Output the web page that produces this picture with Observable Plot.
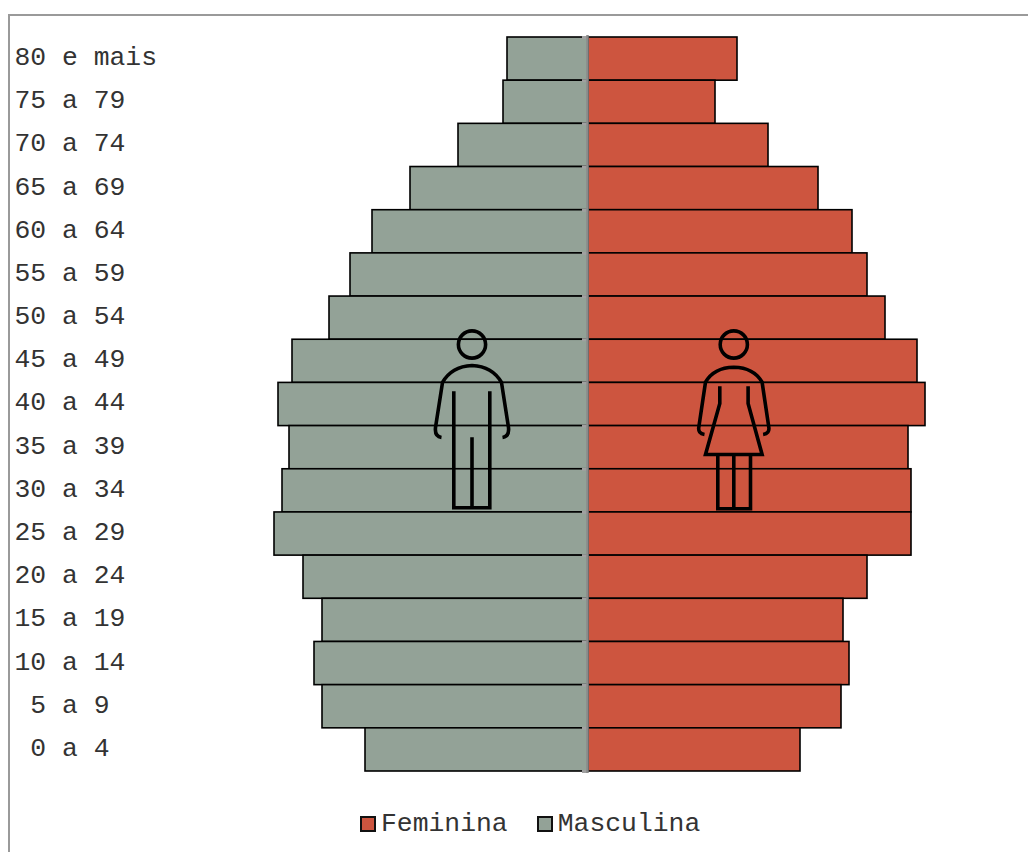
<!DOCTYPE html>
<html><head><meta charset="utf-8">
<script src="https://cdn.jsdelivr.net/npm/d3@7"></script>
<script src="https://cdn.jsdelivr.net/npm/@observablehq/plot@0.6"></script>
<style>
html,body{margin:0;padding:0;background:#fff;overflow:hidden}
#frame{position:relative;width:1028px;height:852px}
#frame svg{display:block}
#border{position:absolute;left:8px;top:14px;right:-4px;bottom:-4px;border-top:2px solid #9a9a9a;border-left:2px solid #9a9a9a}
#legend{position:absolute;left:360px;top:809px;display:flex;align-items:center;font:26.4px "Liberation Mono",monospace;color:#333;line-height:30px;white-space:pre}
#legend i{display:inline-block;width:12px;height:12px;border:2px solid #111;margin-right:5px;margin-top:0;box-sizing:content-box}
#legend span{margin-right:29px}
</style></head><body>
<div id="frame"><div id="border"></div><div id="chart"></div><div id="legend"></div></div>
<script>
const ageGroups = ["80 e mais","75 a 79","70 a 74","65 a 69","60 a 64","55 a 59","50 a 54","45 a 49","40 a 44","35 a 39","30 a 34","25 a 29","20 a 24","15 a 19","10 a 14","\u00a05 a 9","\u00a00 a 4"];
const masculina = [81,85,130,178,216,238,259,296,310,299,306,314,285,266,274,266,223];
const feminina = [149,127,180,230,264,279,297,329,337,320,323,323,279,255,261,253,212];
const seriesNames = ["Feminina","Masculina"];
const seriesColors = ["#cd553f","#93a297"];
const iconCenters = [-117,145.3];
const iconRow = "40 a 44";

const rows = ageGroups.flatMap((a,i)=>[
  {age:a,sexo:"Masculina",x1:-masculina[i],x2:0},
  {age:a,sexo:"Feminina",x1:0,x2:feminina[i]}
]);

const svgUri = s => "data:image/svg+xml;utf8,"+encodeURIComponent(s);
const head = '<svg xmlns="http://www.w3.org/2000/svg" viewBox="0 0 80 184" width="80" height="184"><g fill="none" stroke="#000" stroke-width="3.6" stroke-linecap="butt" stroke-linejoin="miter">';
const maleIcon = head +
 '<circle cx="40.5" cy="16" r="13.6"/>'+
 '<path d="M10 109 Q3 108 4 99 L11 54 Q20 38 40.5 37 Q61 38 70 54 L77 99 Q78 108 71 109"/>'+
 '<path d="M22.3 62.7 V179.3 H58.3 V62.7 M40.5 108.7 V179.3"/></g></svg>';
const femaleIcon = head +
 '<circle cx="40" cy="16" r="13.6"/>'+
 '<path d="M10.7 106 Q4 105 5 98.7 L11.7 53.7 Q20 39 40 38.7 Q60 39 68.3 53.7 L75 98.7 Q76 105 69.3 106"/>'+
 '<path d="M26 57.7 V75 L11.7 126 H68.3 L54.3 75 V57.7 M24 126 V180.3 H56.7 V126 M40 126 V180.3"/></g></svg>';

const step = (771-37)/ageGroups.length;
const axisGray = "#8a8a8a";

const plot = Plot.plot({
  width:1028, height:852, margin:0,
  style:{background:"transparent",overflow:"visible"},
  x:{domain:[-588,440],range:[0,1028],axis:null},
  y:{domain:ageGroups,range:[37,771],padding:0,round:false,label:null},
  color:{domain:seriesNames,range:seriesColors},
  marks:[
    Plot.barX(rows,{y:"age",x1:"x1",x2:"x2",fill:"sexo",stroke:"#000",strokeWidth:1.6}),
    Plot.ruleY(ageGroups,{y:d=>d,x1:-6,x2:0,dy:-step/2,stroke:"#a0a0a0",strokeWidth:3}),
    Plot.ruleY(ageGroups.slice(-1),{y:d=>d,x1:-6,x2:0,dy:step/2,stroke:"#a0a0a0",strokeWidth:3}),
    Plot.ruleX([0],{insetTop:35,insetBottom:79,stroke:axisGray,strokeWidth:2.5,dx:-1}),
    Plot.image(iconCenters.map((x,i)=>({x,src:svgUri(i?femaleIcon:maleIcon)})),{x:"x",y:()=>iconRow,src:"src",width:80,height:184,dy:16,preserveAspectRatio:"none"}),
    Plot.axisY({anchor:"left",tickSize:0,tickPadding:0,textAnchor:"start",dx:14,dy:-2.5,fontSize:26.4,fontFamily:"Liberation Mono",fill:"#333",label:null})
  ]
});
document.getElementById("chart").append(plot);

const lg = document.getElementById("legend");
seriesNames.forEach((n,i)=>{
  const sw=document.createElement("i"); sw.style.background=seriesColors[i];
  const t=document.createElement("span"); t.textContent=n;
  lg.append(sw,t);
});
</script>
</body></html>
